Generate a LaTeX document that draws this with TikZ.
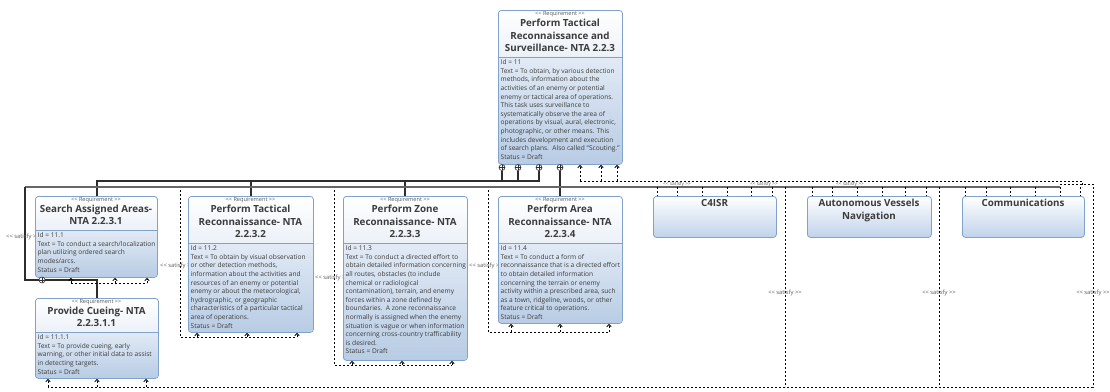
\documentclass[tikz,border=0pt]{standalone}
\usepackage{fontspec}
\setmainfont{Open Sans}
\usetikzlibrary{arrows.meta,calc}
\definecolor{bord}{RGB}{128,162,204}
\definecolor{hdrbot}{RGB}{236,241,248}
\definecolor{bodytop}{RGB}{226,234,245}
\definecolor{bodybot}{RGB}{184,204,228}
\definecolor{blkbot}{RGB}{192,210,234}
\definecolor{txt}{RGB}{60,60,60}
\definecolor{lbl}{RGB}{90,90,90}
\definecolor{wire}{RGB}{45,45,45}
\pgfdeclarelayer{bg}
\pgfsetlayers{bg,main}
\newcommand{\oo}{<{}<}
\newcommand{\cc}{>{}>}
\tikzset{
  stereo/.style={inner sep=0, text=lbl, font=\fontsize{5.6}{7}\selectfont},
  reqtitle/.style={inner sep=0, align=center, text=txt, font=\bfseries\fontsize{9.8}{12.5}\selectfont},
  reqbody/.style={inner sep=0, align=left, text=txt, font=\fontsize{6.6}{8.6}\selectfont},
  reqframe/.style={draw=bord, line width=0.8pt, rounded corners=3pt, inner sep=0, anchor=north west},
  blkbox/.style={draw=bord, line width=0.8pt, rounded corners=3pt, inner sep=0, anchor=north west, top color=white, bottom color=blkbot},
  cont/.style={draw=wire, line width=1.1pt},
  contgray/.style={draw=black!60, line width=1.6pt},
  sat/.style={draw=black, line width=0.8pt, dash pattern=on 2pt off 2pt},
  satarr/.style={sat, -{Straight Barb[length=2.5pt,width=4.5pt]}},
  satlbl/.style={inner sep=0, text=lbl, font=\fontsize{5.8}{6}\selectfont},
  satlblsmall/.style={inner sep=0, text=lbl, font=\fontsize{4.8}{5}\selectfont},
  plusnode/.style={circle, draw=wire, fill=white, line width=0.6pt, inner sep=0, minimum size=6pt,
    path picture={\draw[wire, line width=0.5pt] (path picture bounding box.north) -- (path picture bounding box.south)
      (path picture bounding box.west) -- (path picture bounding box.east);}}
}
% #1 name, #2 x, #3 y, #4 w, #5 h, #6 divider y, #7 title, #8 body
\newcommand{\ReqBox}[8]{%
  \begin{scope}
    \clip[rounded corners=3pt] (#2,#3) rectangle (#2+#4,#3+#5);
    \shade[top color=white, bottom color=hdrbot] (#2,#3) rectangle (#2+#4,#6);
    \shade[top color=bodytop, bottom color=bodybot] (#2,#6) rectangle (#2+#4,#3+#5);
  \end{scope}
  \node[reqframe, minimum width=#4, minimum height=#5] (#1) at (#2,#3) {};
  \draw[bord, line width=0.8pt] (#1.west |- #2,#6) -- (#1.east |- #2,#6);
  \node[stereo, anchor=north] (#1-st) at (#2+#4/2,#3+1) {\oo\ Requirement \cc};
  \node[reqtitle] (#1-t) at (#2+#4/2,{(#3+#6)/2+2}) {#7};
  \node[reqbody, anchor=north west] (#1-b) at (#2+2.5,#6+2.4) {#8};
}
\newcommand{\BlkBox}[6]{%
  \node[blkbox, minimum width=#4, minimum height=#5] (#1) at (#2,#3) {};
  \node[reqtitle, anchor=north] (#1-t) at (#2+#4/2,#3+3) {#6};
}
\begin{document}
\begin{tikzpicture}[x=1pt,y=-1pt]
\useasboundingbox (0,0) rectangle (1110,391);
\begin{pgfonlayer}{bg}
\fill[white] (0,0) rectangle (1110,391);
\end{pgfonlayer}

% ---------- requirement nodes ----------
\ReqBox{T}{498}{10}{124}{154}{57}{Perform Tactical\\Reconnaissance and\\Surveillance- NTA 2.2.3}
{Id = 11\\Text = To obtain, by various detection\\methods, information about the\\activities of an enemy or potential\\enemy or tactical area of operations.\\This task uses surveillance to\\systematically observe the area of\\operations by visual, aural, electronic,\\photographic, or other means. This\\includes development and execution\\of search plans.\ \ Also called “Scouting.”\\Status = Draft}

\ReqBox{S}{35}{196}{122}{81}{230}{Search Assigned Areas-\\NTA 2.2.3.1}
{Id = 11.1\\Text = To conduct a search/localization\\plan utilizing ordered search\\modes/arcs.\\Status = Draft}

\ReqBox{C}{35}{298}{123}{80}{332}{Provide Cueing- NTA\\2.2.3.1.1}
{Id = 11.1.1\\Text = To provide cueing, early\\warning, or other initial data to assist\\in detecting targets.\\Status = Draft}

\ReqBox{R2}{188}{196}{125}{136}{243}{Perform Tactical\\Reconnaissance- NTA\\2.2.3.2}
{Id = 11.2\\Text = To obtain by visual observation\\or other detection methods,\\information about the activities and\\resources of an enemy or potential\\enemy or about the meteorological,\\hydrographic, or geographic\\characteristics of a particular tactical\\area of operations.\\Status = Draft}

\ReqBox{R3}{343}{196}{124}{164}{243}{Perform Zone\\Reconnaissance- NTA\\2.2.3.3}
{Id = 11.3\\Text = To conduct a directed effort to\\obtain detailed information concerning\\all routes, obstacles (to include\\chemical or radiological\\contamination), terrain, and enemy\\forces within a zone defined by\\boundaries.\ \ A zone reconnaissance\\normally is assigned when the enemy\\situation is vague or when information\\concerning cross-country trafficability\\is desired.\\Status = Draft}

\ReqBox{R4}{498}{196}{124}{127}{243}{Perform Area\\Reconnaissance- NTA\\2.2.3.4}
{Id = 11.4\\Text = To conduct a form of\\reconnaissance that is a directed effort\\to obtain detailed information\\concerning the terrain or enemy\\activity within a prescribed area, such\\as a town, ridgeline, woods, or other\\feature critical to operations.\\Status = Draft}

% ---------- blocks ----------
\BlkBox{B1}{653}{196}{123}{41}{C4ISR}
\BlkBox{B2}{807}{196}{124}{41}{Autonomous Vessels\\Navigation}
\BlkBox{B3}{962}{196}{122}{41}{Communications}

% ---------- containment symbols ----------
\node[plusnode] (p1) at (502,167.5) {};
\node[plusnode] (p2) at (518,167.5) {};
\node[plusnode] (p3) at (539,167.5) {};
\node[plusnode] (p4) at (560,167.5) {};
\node[plusnode] (pS) at (42,280) {};

% ---------- connectors (behind the boxes) ----------
\begin{pgfonlayer}{bg}
% containment
\draw[cont] (p1.south) -- (502,181) -- (97,181) -- (97,0 |- S.north);
\draw[cont] (p2.south) -- (518,181) -- (251,181) -- (251,0 |- R2.north);
\draw[cont] (p3.south) -- (539,181) -- (405,181) -- (405,0 |- R3.north);
\draw[cont] (p4.south) -- (560,0 |- R4.north);
\draw[contgray] (25,187) -- (1060,187);
\draw[cont] (25,187) -- (25,280) -- (pS.west);
\draw[cont] (pS.east) -- (97,280) -- (97,0 |- C.north);

% satisfy to the top requirement
\foreach \x in {580,601,617} \draw[satarr] (\x,181) -- (\x,0 |- T.south);
\draw[sat] (580,181) -- (1082,181) -- (1082,187);
% ticks onto blocks
\foreach \x in {657,677,702,727,751,772} \draw[sat] (\x,187) -- (\x,0 |- B1.north);
\foreach \x in {812,832,857,882,905,926} \draw[sat] (\x,187) -- (\x,0 |- B2.north);
\foreach \x in {965,986,1010,1035,1060,1080} \draw[sat] (\x,187) -- (\x,0 |- B3.north);
% long verticals and bottom run
\draw[sat] (785,187) -- (785,387);
\draw[sat] (939,187) -- (939,387);
\draw[sat] (1060,184) -- (1093,184) -- (1093,387) -- (48,387);
\foreach \x in {48,97,146} \draw[satarr] (\x,387) -- (\x,0 |- C.south);
% search
\draw[sat] (71,283) -- (147,283);
\foreach \x in {71,115,147} \draw[satarr] (\x,283) -- (\x,0 |- S.south);
% tactical
\draw[sat] (180,190) -- (180,337) -- (297,337);
\foreach \x in {197,247,297} \draw[satarr] (\x,337) -- (\x,0 |- R2.south);
% zone
\draw[sat] (334,190) -- (334,365) -- (452,365);
\foreach \x in {352,402,452} \draw[satarr] (\x,365) -- (\x,0 |- R3.south);
% area
\draw[sat] (488,190) -- (488,332) -- (609,332);
\foreach \x in {511,560,609} \draw[satarr] (\x,332) -- (\x,0 |- R4.south);

% labels
\node[satlbl, anchor=west] (l1) at (6,237) {\oo\ satisfy \cc};
\node[satlbl, anchor=west] (l2) at (160,266) {\oo\ satisfy \cc};
\node[satlbl, anchor=west] (l3) at (315,278) {\oo\ satisfy \cc};
\node[satlbl, anchor=west] (l4) at (469,266) {\oo\ satisfy \cc};
\node[satlbl] (l5) at (785,293) {\oo\ satisfy \cc};
\node[satlbl] (l6) at (939,293) {\oo\ satisfy \cc};
\node[satlbl] (l7) at (1093,293) {\oo\ satisfy \cc};
\node[satlblsmall] (l8) at (677,184) {\oo\ satisfy \cc};
\node[satlblsmall] (l9) at (764,184) {\oo\ satisfy \cc};
\node[satlblsmall] (l10) at (850,184) {\oo\ satisfy \cc};
\end{pgfonlayer}
\end{tikzpicture}
\end{document}
